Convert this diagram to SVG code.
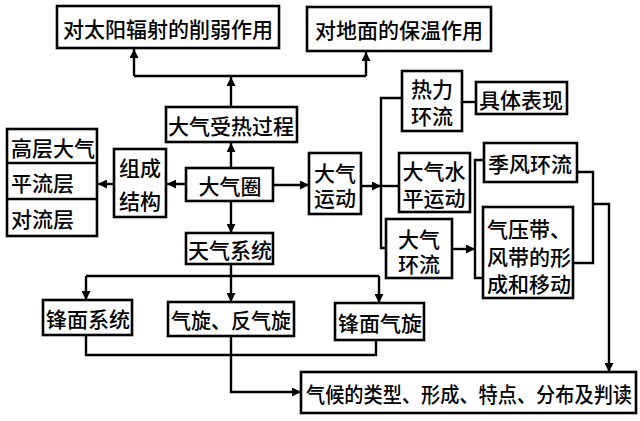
<svg xmlns="http://www.w3.org/2000/svg" width="640" height="421" viewBox="0 0 640 421">
<style>
.b{fill:#fff;stroke:#000;stroke-width:2.6}
.t{font-family:"Noto Sans CJK SC","Noto Sans",sans-serif;font-size:21px;fill:#000;font-weight:500;dominant-baseline:central;text-anchor:middle}
.l{text-anchor:start}
.c{fill:none;stroke:#000;stroke-width:2.4}
</style>
<defs>
<marker id="a" markerUnits="userSpaceOnUse" markerWidth="10" markerHeight="9" refX="9" refY="4.5" orient="auto">
<path d="M0,0 L9,4.5 L0,9 z" fill="#000"/>
</marker>
</defs>
<rect width="640" height="421" fill="#fff"/>
<g id="connectors">
<path class="c" d="M134,76 H366"/>
<path class="c" d="M231,107 V77" marker-end="url(#a)"/>
<path class="c" d="M134,76 V49" marker-end="url(#a)"/>
<path class="c" d="M366,76 V52" marker-end="url(#a)"/>
<path class="c" d="M231,168 V143" marker-end="url(#a)"/>
<path class="c" d="M186,184 H167" marker-end="url(#a)"/>
<path class="c" d="M114,184 H98" marker-end="url(#a)"/>
<path class="c" d="M273,185 H309" marker-end="url(#a)"/>
<path class="c" d="M231,201 V233" marker-end="url(#a)"/>
<path class="c" d="M361,186 H381" marker-end="url(#a)"/>
<path class="c" d="M381,186 H399"/>
<path class="c" d="M402,98 H381 V248 H386"/>
<path class="c" d="M462,102 H476"/>
<path class="c" d="M452,249 H475" marker-end="url(#a)"/>
<path class="c" d="M484,160 H475 V278 H483"/>
<path class="c" d="M577,172 H593 V263 H573"/>
<path class="c" d="M593,204 H609 V372" marker-end="url(#a)"/>
<path class="c" d="M231,264 V302" marker-end="url(#a)"/>
<path class="c" d="M86,276 H379"/>
<path class="c" d="M86,276 V300" marker-end="url(#a)"/>
<path class="c" d="M379,276 V303" marker-end="url(#a)"/>
<path class="c" d="M86,335 V355 H376 V340"/>
<path class="c" d="M231,336 V392 H301" marker-end="url(#a)"/>
</g>
<g id="n1"><rect class="b" x="57" y="6" width="222" height="42"/><text class="t" x="168" y="28">对太阳辐射的削弱作用</text></g>
<g id="n2"><rect class="b" x="307" y="7" width="184" height="44"/><text class="t" x="399" y="29">对地面的保温作用</text></g>
<g id="n3"><rect class="b" x="166" y="107" width="131" height="35"/><text class="t" x="231" y="125">大气受热过程</text></g>
<g id="n4"><rect class="b" x="7" y="129" width="90" height="107"/><line class="c" x1="7" y1="163" x2="97" y2="163"/><line class="c" x1="7" y1="199" x2="97" y2="199"/>
<text class="t l" x="11" y="147">高层大气</text><text class="t l" x="11" y="182">平流层</text><text class="t l" x="11" y="218">对流层</text></g>
<g id="n5"><rect class="b" x="114" y="149" width="52" height="68"/><text class="t" x="140" y="167">组成</text><text class="t" x="140" y="200">结构</text></g>
<g id="n6"><rect class="b" x="186" y="168" width="87" height="33"/><text class="t" x="230" y="185">大气圈</text></g>
<g id="n7"><rect class="b" x="309" y="153" width="52" height="61"/><text class="t" x="335" y="172">大气</text><text class="t" x="335" y="197">运动</text></g>
<g id="n8"><rect class="b" x="402" y="71" width="60" height="60"/><text class="t" x="432" y="88">热力</text><text class="t" x="432" y="115">环流</text></g>
<g id="n9"><rect class="b" x="476" y="82" width="91" height="32"/><text class="t" x="521" y="99">具体表现</text></g>
<g id="n10"><rect class="b" x="399" y="153" width="71" height="59"/><text class="t" x="434" y="170">大气水</text><text class="t" x="434" y="197">平运动</text></g>
<g id="n11"><rect class="b" x="386" y="219" width="66" height="59"/><text class="t" x="419" y="238">大气</text><text class="t" x="419" y="263">环流</text></g>
<g id="n12"><rect class="b" x="484" y="143" width="93" height="39"/><text class="t" x="530" y="163">季风环流</text></g>
<g id="n13"><rect class="b" x="483" y="207" width="90" height="91"/><text class="t l" x="487" y="228">气压带、</text><text class="t l" x="487" y="256">风带的形</text><text class="t l" x="487" y="283">成和移动</text></g>
<g id="n14"><rect class="b" x="186" y="233" width="87" height="31"/><text class="t" x="230" y="249">天气系统</text></g>
<g id="n15"><rect class="b" x="43" y="300" width="89" height="35"/><text class="t" x="88" y="318">锋面系统</text></g>
<g id="n16"><rect class="b" x="168" y="302" width="126" height="34"/><text class="t" x="231" y="319" textLength="120" lengthAdjust="spacingAndGlyphs">气旋、反气旋</text></g>
<g id="n17"><rect class="b" x="335" y="303" width="89" height="37"/><text class="t" x="380" y="322">锋面气旋</text></g>
<g id="n18"><rect class="b" x="301" y="372" width="335" height="41"/><text class="t" x="469" y="393" textLength="326" lengthAdjust="spacingAndGlyphs">气候的类型、形成、特点、分布及判读</text></g>
</svg>
